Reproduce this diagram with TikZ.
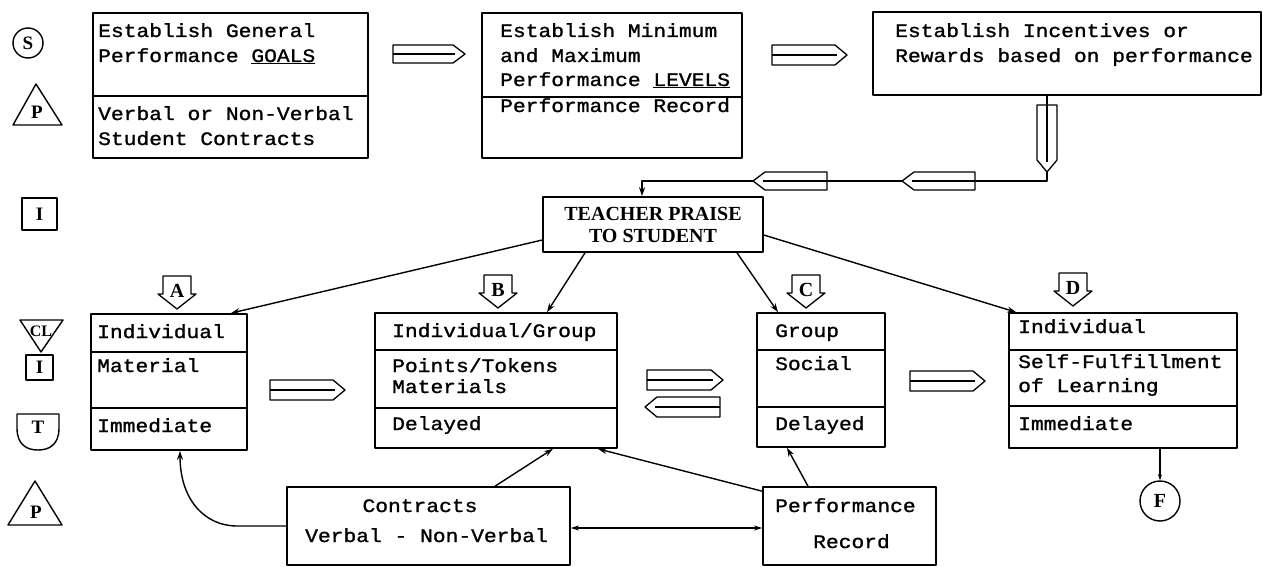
\documentclass[tikz,border=0pt]{standalone}
\usepackage{fontspec}
\usetikzlibrary{arrows.meta,calc}
\newfontfamily\twfont[FakeStretch=1.12,FakeBold=1.2]{Liberation Mono}
\newfontfamily\srfont{Liberation Serif}
\newcommand\blkR[4]{% left x, tip x, centre y, half height
  \draw[pen] ({#1},{#3-#4}) -- ({#2-12},{#3-#4}) -- ({#2},{#3}) -- ({#2-12},{#3+#4}) -- ({#1},{#3+#4}) -- cycle;
  \draw[pen] ({#1},{#3}) -- ({#2-10},{#3});}
\newcommand\blkL[4]{% tip x, right x, centre y, half height
  \draw[pen] ({#2},{#3-#4}) -- ({#1+12},{#3-#4}) -- ({#1},{#3}) -- ({#1+12},{#3+#4}) -- ({#2},{#3+#4}) -- cycle;
  \draw[pen] ({#2},{#3}) -- ({#1+10},{#3});}
\newcommand\blkD[4]{% centre x, top y, tip y, half width
  \draw[pen] ({#1-#4},{#2}) -- ({#1-#4},{#3-12}) -- ({#1},{#3}) -- ({#1+#4},{#3-12}) -- ({#1+#4},{#2}) -- cycle;
  \draw[pen] ({#1},{#2}) -- ({#1},{#3-10});}
\newcommand\tagdown[3]{% centre x, top y, letter
  \draw[tagline] ({#1-14},{#2}) -- ({#1+14},{#2}) -- ({#1+14},{#2+18}) -- ({#1+19},{#2+18}) -- ({#1},{#2+33}) -- ({#1-19},{#2+18}) -- ({#1-14},{#2+18}) -- cycle;
  \node[tagtxt] (tag#3) at ({#1},{#2+21}) {#3};}
\begin{document}
\begin{tikzpicture}[x=1pt,y=-1pt,line join=round,
  box/.style={draw,rectangle,inner sep=0pt,line width=1.6pt},
  div/.style={line width=1.5pt},
  tt/.style={anchor=base west,inner sep=0pt,font=\twfont\fontsize{19}{19}\selectfont},
  pen/.style={draw,fill=white,line width=1.3pt},
  conn/.style={line width=1.4pt},
  arr/.style={-{Stealth[length=9pt,width=6pt]}},
  tagline/.style={line width=1.3pt},
  tagtxt/.style={anchor=base,inner sep=0pt,font=\srfont\bfseries\fontsize{20}{20}\selectfont},
  sym/.style={inner sep=0pt,font=\srfont\bfseries\fontsize{19}{19}\selectfont}]
\useasboundingbox (0,0) rectangle (1263,567);

% ---------- top row ----------
\node[box,minimum width=275pt,minimum height=145pt] (g1) at (230.5,85.5) {};
\draw[div] (g1.west |- 0,96) -- (g1.east |- 0,96);
\node[tt] (g1a) at (98,37) {Establish General};
\node[tt] (g1b) at (98,62) {Performance \underline{GOALS}};
\node[tt] (g1c) at (98,120) {Verbal or Non-Verbal};
\node[tt] (g1d) at (98,145) {Student Contracts};

\node[box,minimum width=260pt,minimum height=145pt] (g2) at (612,85.5) {};
\draw[div] (g2.west |- 0,97) -- (g2.east |- 0,97);
\node[tt] (g2a) at (500,37) {Establish Minimum};
\node[tt] (g2b) at (500,62) {and Maximum};
\node[tt] (g2c) at (500,86) {Performance \underline{LEVELS}};
\node[tt] (g2d) at (500,112) {Performance Record};

\node[box,minimum width=388pt,minimum height=83pt] (g3) at (1067,53.5) {};
\node[tt] (g3a) at (895,37) {Establish Incentives or};
\node[tt] (g3b) at (895,62) {Rewards based on performance};

\blkR{393}{465}{54}{9}
\blkR{772}{847}{55}{10}

% ---------- teacher praise ----------
\node[box,minimum width=220pt,minimum height=55pt,align=center,
      font=\srfont\bfseries\fontsize{20}{22}\selectfont] (tp) at (653,224.5) {TEACHER PRAISE\\TO STUDENT};

\coordinate (elbow) at (642,181);
\draw[conn,arr] ([xshift=-20pt]g3.south) |- (elbow) -- ([xshift=-11pt]tp.north);
\blkD{1047}{105}{172}{10}
\blkL{902}{975}{181}{9}
\blkL{753}{827}{181}{9}

% ---------- four boxes ----------
\node[box,minimum width=156pt,minimum height=136pt] (bA) at (169,382) {};
\draw[div] (bA.west |- 0,352) -- (bA.east |- 0,352);
\draw[div] (bA.west |- 0,408) -- (bA.east |- 0,408);
\node[tt] (a1) at (97,338) {Individual};
\node[tt] (a2) at (97,372) {Material};
\node[tt] (a3) at (97,432) {Immediate};

\node[box,minimum width=242pt,minimum height=135pt] (bB) at (496,380.5) {};
\draw[div] (bB.west |- 0,350) -- (bB.east |- 0,350);
\draw[div] (bB.west |- 0,408) -- (bB.east |- 0,408);
\node[tt] (b1) at (392,337) {Individual/Group};
\node[tt] (b2) at (392,372) {Points/Tokens};
\node[tt] (b3) at (392,393) {Materials};
\node[tt] (b4) at (392,430) {Delayed};

\node[box,minimum width=128pt,minimum height=134pt] (bC) at (821,380) {};
\draw[div] (bC.west |- 0,350) -- (bC.east |- 0,350);
\draw[div] (bC.west |- 0,407) -- (bC.east |- 0,407);
\node[tt] (c1) at (775,337) {Group};
\node[tt] (c2) at (775,370) {Social};
\node[tt] (c3) at (775,430) {Delayed};

\node[box,minimum width=228pt,minimum height=135pt] (bD) at (1123,380.5) {};
\draw[div] (bD.west |- 0,350) -- (bD.east |- 0,350);
\draw[div] (bD.west |- 0,406) -- (bD.east |- 0,406);
\node[tt] (d1) at (1018,333) {Individual};
\node[tt] (d2) at (1018,368) {Self-Fulfillment};
\node[tt] (d3) at (1018,392) {of Learning};
\node[tt] (d4) at (1018,430) {Immediate};

\tagdown{177}{276}{A}
\tagdown{498}{275}{B}
\tagdown{806}{275}{C}
\tagdown{1073}{273}{D}

\blkR{270}{345}{390}{10}
\blkR{647}{723}{380}{10}
\blkL{645}{720}{407}{10}
\blkR{910}{985}{381}{10}

\draw[conn,arr] ([yshift=-15.5pt]tp.west) -- ([xshift=-17pt]bA.north east);
\draw[conn,arr] ([xshift=-68pt]tp.south) -- ([xshift=51pt]bB.north);
\draw[conn,arr] ([xshift=84pt]tp.south) -- ([xshift=-43pt]bC.north);
\draw[conn,arr] ([yshift=-10.5pt]tp.east) -- ([xshift=8pt]bD.north west);

% ---------- bottom boxes ----------
\node[box,minimum width=283pt,minimum height=78pt] (ct) at (428.5,526) {};
\node[tt,anchor=base] (ct1) at (420,512) {Contracts};
\node[tt] (ct2) at (305,542) {Verbal - Non-Verbal};

\node[box,minimum width=173pt,minimum height=78pt] (pr) at (849.5,526) {};
\node[tt] (pr1) at (775,512) {Performance};
\node[tt] (pr2) at (813,548) {Record};

\draw[conn,arr] (ct.west) -- (237,526) .. controls (205,526) and (180,500) .. ([xshift=11pt]bA.south);
\draw[conn,arr] ([xshift=66.5pt]ct.north) -- ([xshift=57pt]bB.south);
\draw[conn,{Stealth[length=8pt,width=5pt]}-{Stealth[length=8pt,width=5pt]}] ([yshift=-2pt]ct.east) -- ([yshift=-2pt]pr.west);
\draw[conn,arr] ([yshift=-5pt]pr.north west) -- ([xshift=-20pt]bB.south east);
\draw[conn,arr] ([xshift=-41.5pt]pr.north) -- ([xshift=-34pt]bC.south);

\node[circle,draw,line width=1.4pt,minimum size=40pt,inner sep=0pt,
      font=\srfont\bfseries\fontsize{20}{20}\selectfont] (F) at (1160,501) {F};
\draw[conn,-{Stealth[length=6pt,width=4pt]}] ([xshift=37pt]bD.south) -- (F.north);

% ---------- left legend ----------
\node[circle,draw,line width=1.4pt,minimum size=30pt,sym] (symS) at (28,43) {S};
\draw[line width=1.4pt] (13,125) -- (36,84) -- (62,125) -- cycle;
\node[sym,anchor=base] (symP) at (37,119) {P};
\node[draw,line width=1.4pt,minimum width=35pt,minimum height=32pt,sym] (symI) at (39.5,214) {I};
\draw[line width=1.4pt] (20,320) -- (63,320) -- (41,352) -- cycle;
\node[sym,anchor=base,font=\srfont\bfseries\fontsize{16}{16}\selectfont] (symCL) at (41,336) {CL};
\node[draw,line width=1.4pt,minimum width=27pt,minimum height=25pt,sym] (symI2) at (39.5,367.5) {I};
\draw[line width=1.4pt] (17,414) -- (59,414) -- (59,428) .. controls (59,445) and (49,450) .. (38,450) .. controls (27,450) and (17,445) .. (17,428) -- cycle;
\node[sym,anchor=base] (symT) at (38,433) {T};
\draw[line width=1.4pt] (8,525) -- (35,481) -- (62,525) -- cycle;
\node[sym,anchor=base] (symP2) at (36,518) {P};
\end{tikzpicture}
\end{document}
